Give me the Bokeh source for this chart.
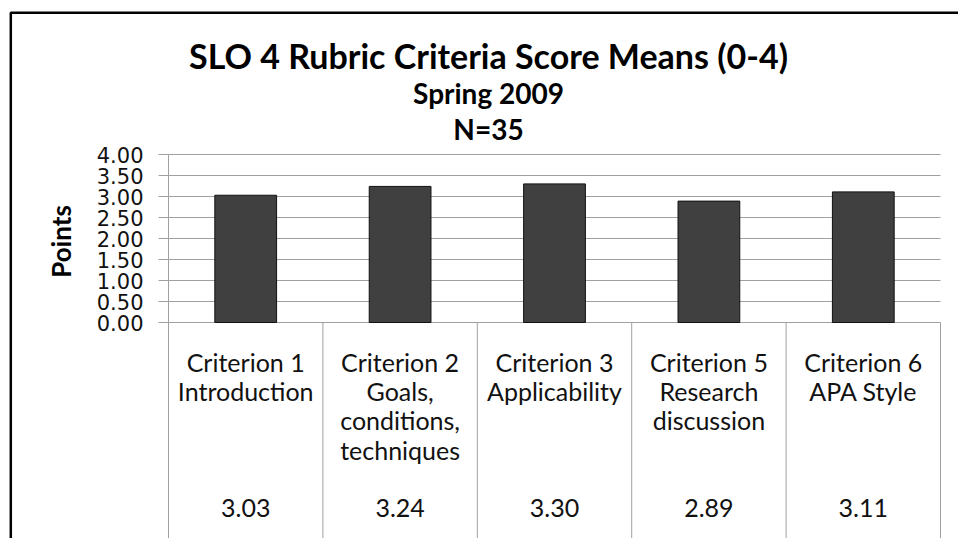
from bokeh.plotting import figure
from bokeh.models import Range1d, FixedTicker, Label
from bokeh.core.properties import value
from bokeh.embed import file_html
from bokeh.resources import INLINE
import math

# ---- data ----
criteria = ["Criterion 1\nIntroduction", "Criterion 2\nGoals,\nconditions,\ntechniques",
            "Criterion 3\nApplicability", "Criterion 5\nResearch\ndiscussion",
            "Criterion 6\nAPA Style"]
means = [3.03, 3.24, 3.30, 2.89, 3.11]
mean_labels = ["3.03", "3.24", "3.30", "2.89", "3.11"]
y_ticks = [0.0, 0.5, 1.0, 1.5, 2.0, 2.5, 3.0, 3.5, 4.0]
y_tick_labels = {t: f"{t:.2f}" for t in y_ticks}
title_text = "SLO 4 Rubric Criteria Score Means (0-4)"
subtitle_text = "Spring 2009"
n_text = "N=35"
y_label_text = "Points"

# ---- layout: frame covers the whole canvas ----
W, H = 958, 538
X0_PX = 168.0    # canvas x of category axis start
Y0_PX = 322.0    # canvas y (from top) of value 0
PX_X = 154.4     # pixels per category
PX_Y = 42.0      # pixels per value unit
CAP = 0.2705     # Lato: ascent minus cap height, in em

def dx(px):  # canvas px -> data x
    return (px - X0_PX) / PX_X

def dy(py):  # canvas px (from top) -> data y
    return (Y0_PX - py) / PX_Y

n = len(criteria)
centers = [i + 0.5 for i in range(n)]
bounds = [i + 1 for i in range(n)]

p = figure(width=W, height=H, output_backend="svg", toolbar_location=None,
           x_range=Range1d(dx(0), dx(W)), y_range=Range1d(dy(H), dy(0)),
           x_axis_type=None, min_border=0, min_border_left=0, min_border_right=0,
           min_border_top=0, min_border_bottom=0)
p.outline_line_color = None
p.background_fill_color = "white"
p.border_fill_color = "white"
p.xgrid.visible = False
p.ygrid.visible = False

GRID = "#a0a0a0"
TXT = "#111111"

ax = p.yaxis[0]
ax.fixed_location = 0
ax.bounds = (dy(H), 4.0)
ax.ticker = FixedTicker(ticks=y_ticks)
ax.major_label_overrides = y_tick_labels
ax.major_label_text_font = "DejaVu Sans"
ax.major_label_text_font_size = "21px"
ax.major_label_text_color = TXT
ax.major_label_standoff = 15
ax.major_tick_out = 10
ax.major_tick_in = 0
ax.minor_tick_out = 0
ax.minor_tick_in = 0
ax.major_tick_line_color = GRID
ax.axis_line_color = GRID

# horizontal gridlines across the categories
p.segment(x0=[0] * len(y_ticks), x1=[n] * len(y_ticks), y0=y_ticks, y1=y_ticks,
          line_color=GRID, line_width=1)

# data table vertical lines
p.segment(x0=bounds, y0=[0] * n, x1=bounds, y1=[dy(H)] * n,
          line_color=GRID, line_width=1)

# bars
p.vbar(x=centers, top=means, bottom=0, width=0.4,
       fill_color="#404040", line_color="#111111", line_width=1)

# data table texts
p.text(x=centers, y=[dy(346)] * n, text=criteria, text_align="center",
       text_baseline="top", text_font=value("Lato"), text_font_size="25px",
       text_color=TXT, text_line_height=0.98)
p.text(x=centers, y=[dy(505 - CAP * 25)] * n, text=mean_labels, text_align="center",
       text_baseline="top", text_font=value("Lato"), text_font_size="25px",
       text_color=TXT)

# titles
tx = dx(488)
p.add_layout(Label(x=tx, y=dy(44 - CAP * 34), text=title_text,
                   text_align="center", text_baseline="top",
                   text_font="Lato", text_font_style="bold", text_font_size="34px",
                   text_color="black"))
p.add_layout(Label(x=tx, y=dy(83 - CAP * 28), text=subtitle_text,
                   text_align="center", text_baseline="top",
                   text_font="Lato", text_font_style="bold", text_font_size="28px",
                   text_color="black"))
p.add_layout(Label(x=tx, y=dy(119 - CAP * 28), text=n_text,
                   text_align="center", text_baseline="top",
                   text_font="Lato", text_font_style="bold", text_font_size="28px",
                   text_color="black"))
p.add_layout(Label(x=dx(60.5), y=dy(241), text=y_label_text, angle=math.pi / 2,
                   text_align="center", text_baseline="middle",
                   text_font="Lato", text_font_style="bold", text_font_size="26px",
                   text_color="black"))

# chart border (top and left edges visible)
p.line(x=[dx(10.3), dx(10.3), dx(W + 10)], y=[dy(H + 10), dy(12.2), dy(12.2)],
       line_color="black", line_width=2.5)

open("out.html", "w").write(file_html(p, INLINE))
